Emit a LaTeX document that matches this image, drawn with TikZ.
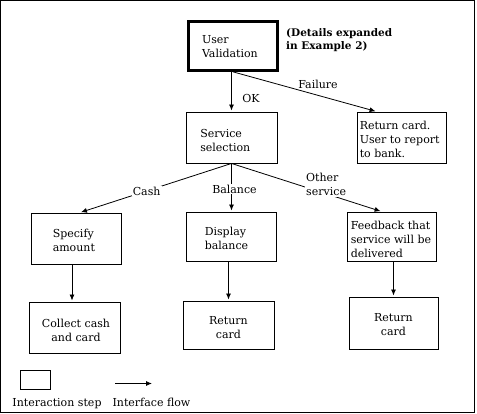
\documentclass[tikz,border=0pt]{standalone}
\usepackage{fontspec}
\setmainfont{DejaVu Serif}
\usetikzlibrary{arrows.meta}
\begin{document}
\begin{tikzpicture}[x=1pt,y=-1pt,
  every node/.style={font=\fontsize{11}{14}\selectfont},
  box/.style={draw, line width=0.9pt, inner sep=0pt},
  txt/.style={inner sep=0pt, align=left, anchor=west},
  ctxt/.style={inner sep=0pt, align=center},
  arr/.style={-{Latex[length=6pt,width=5pt]}, line width=0.8pt, shorten >=1pt},
  lbl/.style={fill=white, inner sep=1pt, align=left}]
\useasboundingbox (0,0) rectangle (477,414);
\draw[line width=1pt] (0.5,0.5) rectangle (474,412.5);

% boxes
\node[box, line width=3.3pt, minimum width=89pt, minimum height=49pt] (uv) at (233,45.7) {};
\node[txt] (uvt) at ([xshift=15pt,yshift=-1pt]uv.west) {User\\Validation};
\node[txt, font=\fontsize{10.5}{12.5}\selectfont\bfseries] (note) at (286,40) {(Details expanded\\in Example 2)};

\node[box, minimum width=91pt, minimum height=51pt] (ss) at (231.5,137.5) {};
\node[txt] (sst) at ([xshift=14.5pt,yshift=-2.5pt]ss.west) {Service\\selection};

\node[box, minimum width=89pt, minimum height=51pt] (rc) at (401.5,137.5) {};
\node[txt] (rct) at ([xshift=3pt,yshift=-2pt]rc.west) {Return card.\\User to report\\to bank.};

\node[box, minimum width=90pt, minimum height=51pt] (sa) at (76,238.5) {};
\node[txt] (sat) at ([xshift=22pt,yshift=-1.5pt]sa.west) {Specify\\amount};

\node[box, minimum width=90pt, minimum height=49pt] (db) at (231,236.5) {};
\node[txt] (dbt) at ([xshift=19pt,yshift=-1.5pt]db.west) {Display\\balance};

\node[box, minimum width=89pt, minimum height=49pt] (fb) at (391.5,236.5) {};
\node[txt] (fbt) at ([xshift=4pt,yshift=-3pt]fb.west) {Feedback that\\service will be\\delivered};

\node[box, minimum width=91pt, minimum height=51pt] (cc) at (74.5,327.5) {};
\node[ctxt] (cct) at ([xshift=1.5pt,yshift=-3pt]cc.center) {Collect cash\\and card};

\node[box, minimum width=91pt, minimum height=48pt] (rm) at (228.5,325) {};
\node[ctxt] (rmt) at ([yshift=-3pt]rm.center) {Return\\card};

\node[box, minimum width=89pt, minimum height=52pt] (rr) at (393.5,323) {};
\node[ctxt] (rrt) at ([yshift=-2pt]rr.center) {Return\\card};

% connectors
\draw[arr] (ss.north |- uv.south) -- (ss.north);
\node[inner sep=0pt] (ok) at (251,98.5) {OK};
\draw[arr] (uv.south) -- ([xshift=20pt]rc.north west);
\node[inner sep=0pt] (fail) at (318,84) {Failure};

\draw[arr] (ss.south) -- ([xshift=4pt]sa.north) node[lbl, pos=0.56] (cash) {Cash};
\draw[arr] (ss.south) -- (ss.south |- db.north);
\node[lbl] (bal) at (234.5,189) {Balance};
\draw[arr] (ss.south) -- ([xshift=35pt]fb.north west);
\node[lbl, anchor=west] (oth) at (305,184.5) {Other\\service};

\draw[arr] ([xshift=-4pt]sa.south) -- ([xshift=-4pt]sa.south |- cc.north);
\draw[arr] (rm.north |- db.south) -- (rm.north);
\draw[arr] (rr.north |- fb.south) -- (rr.north);

% legend
\node[box, minimum width=30pt, minimum height=19pt] (lgbox) at (35,379.5) {};
\node[inner sep=0pt, anchor=base] (lgt1) at (57,406) {Interaction step};
\coordinate (la) at (115,383.5);
\coordinate (lb) at (153,383.5);
\draw[arr] (la) -- (lb);
\node[inner sep=0pt, anchor=base] (lgt2) at (151.5,406) {Interface flow};
\end{tikzpicture}
\end{document}
